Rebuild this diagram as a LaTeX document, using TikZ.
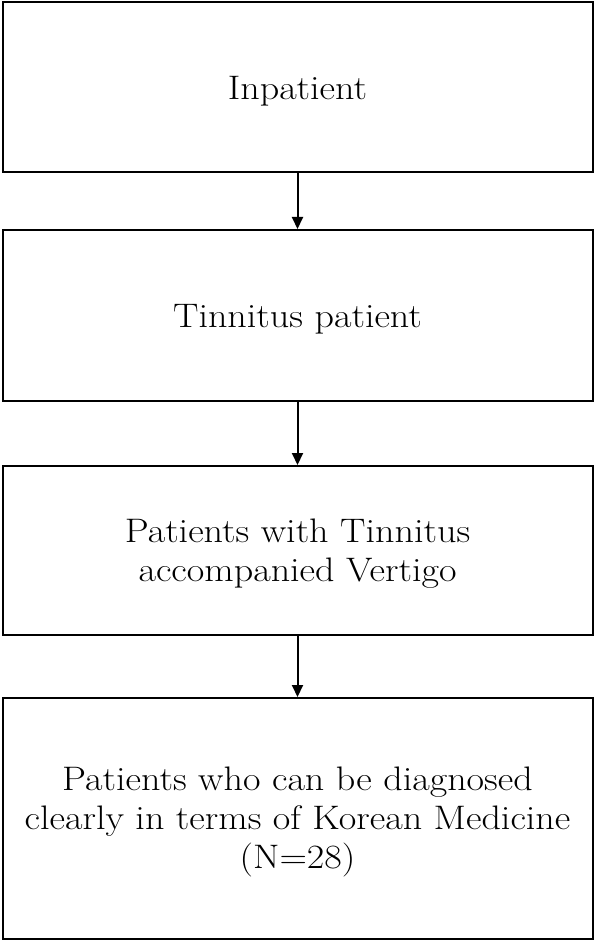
\documentclass[tikz,border=0pt]{standalone}
\usepackage{fontspec}
\setmainfont{Latin Modern Roman}[FakeStretch=1.12]
\usetikzlibrary{arrows.meta}
\begin{document}
\begin{tikzpicture}[x=1pt,y=-1pt,
  box/.style={draw=black,line width=2pt,minimum width=590pt,inner sep=0pt},
  txt/.style={inner sep=0pt,align=center,font=\fontsize{34}{39}\selectfont},
  conn/.style={line width=2pt,-{Triangle[length=12pt,width=11pt]}}]
\useasboundingbox (0,0) rectangle (595,941);
\node[box,minimum height=170pt] (a) at (297.5,87) {};
\node[box,minimum height=171pt] (b) at (297.5,315.5) {};
\node[box,minimum height=169pt] (c) at (297.5,550.5) {};
\node[box,minimum height=241pt] (d) at (297.5,818.5) {};
\node[txt] (ta) at ([yshift=-4pt]a.center) {Inpatient};
\node[txt] (tb) at ([yshift=-4pt]b.center) {Tinnitus patient};
\node[txt] (tc) at ([yshift=-3pt]c.center) {Patients with Tinnitus\\accompanied Vertigo};
\node[txt] (td) at ([yshift=-3pt]d.center) {Patients who can be diagnosed\\clearly in terms of Korean Medicine\\(N=28)};
\draw[conn] (a.south) -- (b.north);
\draw[conn] (b.south) -- (c.north);
\draw[conn] (c.south) -- (d.north);
\end{tikzpicture}
\end{document}
